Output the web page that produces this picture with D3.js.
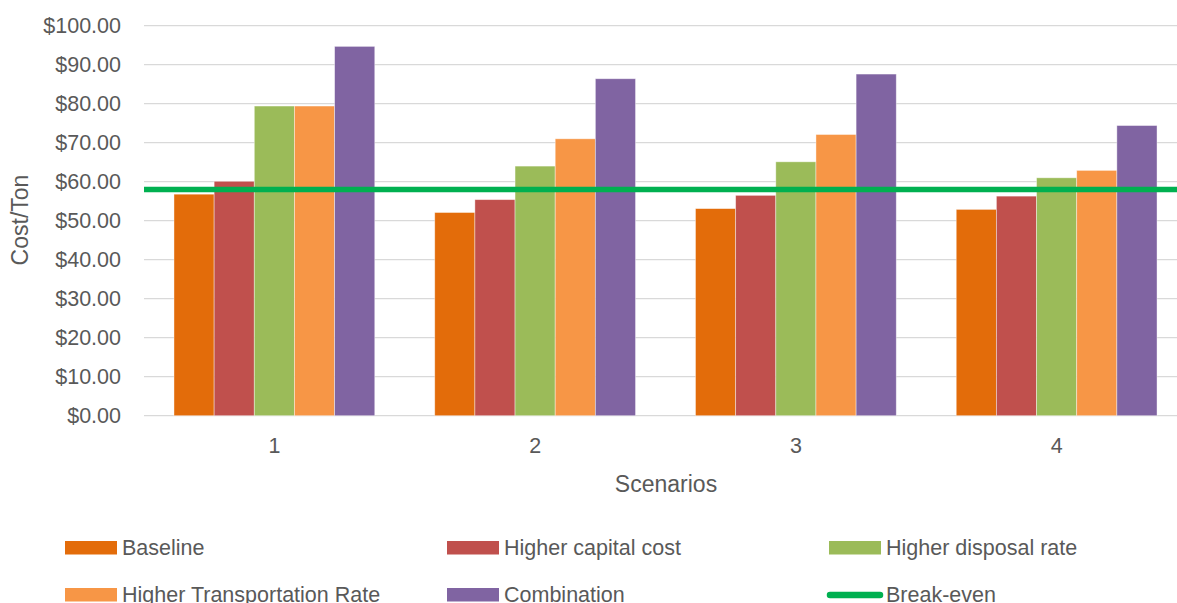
<!DOCTYPE html>
<html>
<head>
<meta charset="utf-8">
<script src="https://cdnjs.cloudflare.com/ajax/libs/d3/7.8.5/d3.min.js"></script>
<style>
  html, body { margin: 0; padding: 0; background: #fff; overflow: hidden; }
  svg { display: block; font-family: "Liberation Sans", Arial, sans-serif; }
</style>
</head>
<body>
<svg id="chart" width="1177" height="603"></svg>
<script>
const categories = ["1", "2", "3", "4"];
const seriesNames = ["Baseline", "Higher capital cost", "Higher disposal rate", "Higher Transportation Rate", "Combination"];
const baseline = [56.8, 52.1, 53.1, 52.9];
const higherCapitalCost = [60.1, 55.4, 56.5, 56.3];
const higherDisposalRate = [79.4, 64.0, 65.1, 61.0];
const higherTransportationRate = [79.4, 71.0, 72.1, 62.9];
const combination = [94.7, 86.4, 87.6, 74.4];
const breakEven = 58;
const yTicks = [0, 10, 20, 30, 40, 50, 60, 70, 80, 90, 100];
const seriesColors = ["#E36C0A", "#C0504D", "#9BBB59", "#F79646", "#8064A2"];
const breakEvenColor = "#00B050";

const seriesValues = [baseline, higherCapitalCost, higherDisposalRate, higherTransportationRate, combination];

(function () {
const svg = d3.select("#chart");
const plotL = 144, plotR = 1187, plotT = 25.7, plotB = 415.7;
const textColor = "#595959";

const x0 = d3.scaleBand().domain(categories).range([plotL, plotR]).paddingInner(0).paddingOuter(0);
const groupW = x0.bandwidth() * 0.77;
const x1 = d3.scaleBand().domain(d3.range(seriesNames.length)).range([0, groupW]).padding(0);
const y = d3.scaleLinear().domain([0, 100]).range([plotB, plotT]);

// gridlines
svg.append("g").selectAll("line").data(yTicks).join("line")
  .attr("x1", plotL).attr("x2", 1177)
  .attr("y1", d => y(d)).attr("y2", d => y(d))
  .attr("stroke", "#d9d9d9").attr("stroke-width", 1.3);

// y axis labels
const yAxis = d3.axisLeft(y).tickValues(yTicks).tickSize(0).tickPadding(0)
  .tickFormat(d => "$" + d3.format(".2f")(d));
const gy = svg.append("g").attr("transform", `translate(121,0)`).call(yAxis);
gy.select(".domain").remove();
gy.selectAll("text").attr("fill", textColor).style("font-size", "21.5px")
  .style("font-family", "'Liberation Sans', Arial, sans-serif");

// bars
const groups = svg.append("g").selectAll("g").data(categories).join("g")
  .attr("transform", d => `translate(${x0(d) + (x0.bandwidth() - groupW) / 2},0)`);
groups.selectAll("rect").data((c, ci) => seriesValues.map((s, si) => ({ si, v: s[ci] }))).join("rect")
  .attr("x", d => x1(d.si)).attr("width", x1.bandwidth())
  .attr("y", d => y(d.v)).attr("height", d => y(0) - y(d.v))
  .attr("fill", d => seriesColors[d.si])
  .attr("stroke", "#ffffff").attr("stroke-opacity", 0.5).attr("stroke-width", 0.8);

// x axis labels
const xAxis = d3.axisBottom(x0).tickSize(0).tickPadding(0);
const gx = svg.append("g").attr("transform", `translate(0,${plotB + 22})`).call(xAxis);
gx.select(".domain").remove();
gx.selectAll("text").attr("fill", textColor).style("font-size", "21.5px")
  .style("font-family", "'Liberation Sans', Arial, sans-serif");

// break-even line
svg.append("line")
  .attr("x1", plotL).attr("x2", 1177)
  .attr("y1", y(breakEven)).attr("y2", y(breakEven))
  .attr("stroke", breakEvenColor).attr("stroke-width", 5.5);

// axis titles
svg.append("text").attr("x", 666).attr("y", 492).attr("text-anchor", "middle")
  .attr("fill", textColor).style("font-size", "23px").text("Scenarios");
svg.append("text").attr("transform", "translate(28,220) rotate(-90)").attr("text-anchor", "middle")
  .attr("fill", textColor).style("font-size", "23px").text("Cost/Ton");

// legend
const legendItems = seriesNames.map((n, i) => ({ name: n, color: seriesColors[i], type: "rect" }))
  .concat([{ name: "Break-even", color: breakEvenColor, type: "line" }]);
const colX = [65, 447, 829];
const rowY = [548, 595];
const lg = svg.append("g").selectAll("g").data(legendItems).join("g")
  .attr("transform", (d, i) => `translate(${colX[i % 3]},${rowY[Math.floor(i / 3)]})`);
lg.filter(d => d.type === "rect").append("rect")
  .attr("x", 0).attr("y", -7).attr("width", 52).attr("height", 13.5).attr("fill", d => d.color);
lg.filter(d => d.type === "line").append("line")
  .attr("x1", 1).attr("x2", 51).attr("y1", 0).attr("y2", 0)
  .attr("stroke", d => d.color).attr("stroke-width", 6.5).attr("stroke-linecap", "round");
lg.append("text").attr("x", 57).attr("y", 7)
  .attr("fill", textColor).style("font-size", "21.5px").text(d => d.name);
})();
</script>
</body>
</html>
